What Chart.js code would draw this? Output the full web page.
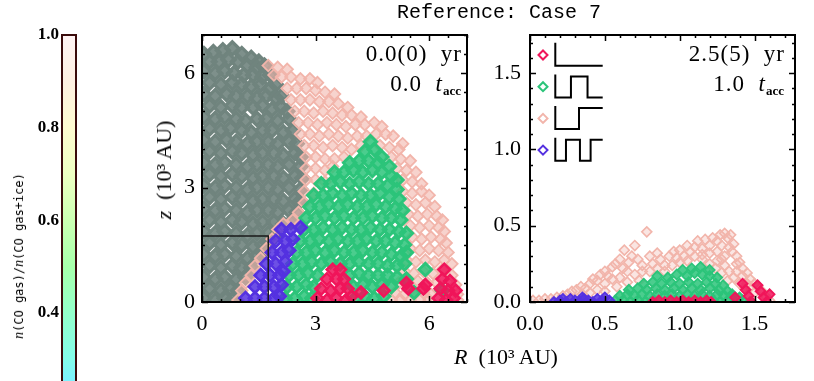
<!DOCTYPE html>
<html><head><meta charset="utf-8">
<script src="https://cdn.jsdelivr.net/npm/chart.js@4/dist/chart.umd.min.js"></script>
<style>
html,body{margin:0;padding:0;background:#fff;}
#wrap{position:relative;width:814px;height:381px;overflow:hidden;background:#fff;}
canvas{position:absolute;}
.t{position:absolute;white-space:nowrap;color:#000;font-family:'Liberation Serif',serif;line-height:1;}
.ann{font-size:23px;letter-spacing:1px;}
.ann sub{font-size:13px;font-weight:bold;vertical-align:-4px;line-height:0;letter-spacing:0;}
</style></head>
<body><div id="wrap">
<canvas id="cb" width="80" height="381" style="left:0;top:0;width:80px;height:381px"></canvas>
<canvas id="cl" width="340" height="345" style="left:140px;top:0;width:340px;height:345px"></canvas>
<canvas id="cr" width="344" height="345" style="left:470px;top:0;width:344px;height:345px"></canvas>

<div class="t" style="left:499px;top:3px;transform:translateX(-50%);font-family:'Liberation Mono',monospace;font-size:20px;">Reference: Case 7</div>
<div class="t" style="left:164px;top:170px;transform:translate(-50%,-50%) rotate(-90deg);font-size:22px;"><i>z</i>&nbsp;&nbsp;(10³ AU)</div>
<div class="t" style="left:506px;top:357px;transform:translate(-50%,-50%);font-size:22px;"><i>R</i>&nbsp;&nbsp;(10³ AU)</div>
<div class="t" style="left:19px;top:256px;transform:translate(-50%,-50%) rotate(-90deg);font-family:'DejaVu Sans Mono',monospace;font-size:12px;"><i style="font-family:'Liberation Serif',serif;font-size:14px">n</i>(CO gas)/<i style="font-family:'Liberation Serif',serif;font-size:14px">n</i>(CO gas+ice)</div>

<div class="t ann" style="right:352px;top:42px;">0.0(0)&nbsp;&nbsp;yr</div>
<div class="t ann" style="right:353px;top:72px;">0.0&nbsp;&nbsp;<i>t</i><sub>acc</sub></div>
<div class="t ann" style="right:29px;top:42px;">2.5(5)&nbsp;&nbsp;yr</div>
<div class="t ann" style="right:30px;top:72px;">1.0&nbsp;&nbsp;<i>t</i><sub>acc</sub></div>
</div>
<script>
// ---------- data (x = R in 10^3 AU, y = z in 10^3 AU), flat pairs ----------
const grayL = [
0.05,6.5, 0.3,6.55, 0.55,6.6, 0.8,6.65, 1.05,6.5, 1.3,6.4, 1.5,6.3,
0.2,6.3, 0.45,6.3, 0.7,6.35, 0.95,6.3, 1.2,6.2, 1.45,6.15, 1.65,6.2,
0.05,6.05, 0.35,6.0, 0.6,6.05, 0.85,6.0, 1.1,5.95, 1.35,5.95, 1.6,5.9, 1.8,5.95,
0.2,5.75, 0.5,5.7, 0.8,5.75, 1.05,5.7, 1.3,5.65, 1.55,5.7, 1.8,5.6, 1.95,5.7,
0.05,5.45, 0.35,5.4, 0.65,5.45, 0.9,5.4, 1.2,5.4, 1.45,5.35, 1.7,5.4, 1.95,5.35, 2.1,5.4,
0.2,5.15, 0.5,5.1, 0.8,5.15, 1.05,5.1, 1.35,5.1, 1.6,5.15, 1.85,5.05, 2.1,5.1, 2.25,5.0,
0.05,4.85, 0.35,4.8, 0.6,4.85, 0.9,4.8, 1.15,4.75, 1.45,4.8, 1.7,4.8, 2.0,4.75, 2.3,4.8,
0.2,4.55, 0.5,4.5, 0.75,4.55, 1.05,4.5, 1.3,4.45, 1.6,4.5, 1.85,4.5, 2.15,4.45, 2.4,4.5,
0.05,4.25, 0.35,4.2, 0.65,4.25, 0.9,4.2, 1.2,4.15, 1.45,4.2, 1.75,4.2, 2.0,4.15, 2.3,4.2, 2.5,4.15,
0.2,3.95, 0.5,3.9, 0.8,3.95, 1.05,3.9, 1.35,3.85, 1.6,3.9, 1.9,3.9, 2.15,3.85, 2.45,3.9, 2.6,3.8,
0.05,3.65, 0.35,3.6, 0.6,3.65, 0.9,3.6, 1.2,3.55, 1.45,3.6, 1.75,3.6, 2.0,3.55, 2.3,3.6, 2.6,3.55,
0.2,3.35, 0.5,3.3, 0.8,3.35, 1.05,3.3, 1.35,3.25, 1.6,3.3, 1.9,3.3, 2.15,3.25, 2.45,3.3, 2.65,3.25,
0.05,3.05, 0.35,3.0, 0.6,3.05, 0.9,3.0, 1.2,2.95, 1.45,3.0, 1.75,3.0, 2.0,2.95, 2.3,3.0, 2.6,2.95,
0.2,2.75, 0.5,2.7, 0.8,2.75, 1.05,2.7, 1.35,2.65, 1.6,2.7, 1.9,2.7, 2.15,2.65, 2.45,2.7, 2.6,2.65,
0.05,2.45, 0.35,2.4, 0.6,2.45, 0.9,2.4, 1.2,2.35, 1.45,2.4, 1.75,2.4, 2.0,2.35, 2.3,2.4, 2.5,2.35,
0.2,2.15, 0.5,2.1, 0.8,2.15, 1.05,2.1, 1.35,2.05, 1.6,2.1, 1.9,2.1, 2.15,2.05, 2.35,2.1,
0.05,1.85, 0.35,1.8, 0.6,1.85, 0.9,1.8, 1.2,1.75, 1.45,1.8, 1.75,1.8, 1.95,1.75,
0.2,1.55, 0.5,1.5, 0.8,1.55, 1.05,1.5, 1.35,1.45, 1.6,1.5, 1.75,1.55,
0.05,1.25, 0.35,1.2, 0.6,1.25, 0.9,1.2, 1.2,1.15, 1.45,1.2, 1.6,1.3,
0.2,0.95, 0.5,0.9, 0.8,0.95, 1.05,0.9, 1.3,0.9,
0.05,0.65, 0.35,0.6, 0.6,0.65, 0.9,0.6, 1.15,0.65,
0.2,0.35, 0.5,0.3, 0.75,0.35, 0.95,0.3,
0.05,0.1, 0.35,0.05, 0.6,0.1, 0.8,0.05
];
const pinkL = [
1.75,6.2, 2.0,6.15, 2.25,6.1, 1.9,5.95,
2.1,5.9, 2.35,5.9, 2.6,5.85, 2.85,5.85, 3.05,5.75,
2.25,5.6, 2.5,5.6, 2.75,5.6, 3.0,5.55, 3.25,5.5, 3.5,5.45,
2.35,5.3, 2.6,5.3, 2.85,5.3, 3.1,5.25, 3.35,5.25, 3.6,5.2, 3.85,5.1,
2.45,5.0, 2.7,5.0, 2.95,4.95, 3.2,5.0, 3.45,4.95, 3.7,4.9, 3.95,4.9, 4.2,4.85,
2.55,4.7, 2.8,4.7, 3.05,4.65, 3.3,4.7, 3.55,4.65, 3.8,4.6, 4.05,4.65, 4.3,4.65, 4.55,4.7, 4.75,4.6,
2.6,4.4, 2.85,4.4, 3.1,4.35, 3.35,4.4, 3.6,4.35, 3.85,4.3, 4.1,4.35, 4.35,4.35, 4.6,4.4, 4.85,4.4, 5.05,4.35,
2.7,4.1, 2.95,4.1, 3.2,4.05, 3.45,4.1, 3.7,4.05, 3.95,4.0, 4.2,4.1, 4.7,4.1, 4.95,4.05, 5.2,4.0, 5.3,4.15,
2.75,3.8, 3.0,3.8, 3.25,3.75, 3.5,3.75, 3.75,3.8, 5.0,3.8, 5.25,3.75, 5.5,3.7,
2.75,3.5, 3.0,3.5, 3.25,3.45, 3.45,3.55, 5.15,3.5, 5.4,3.45, 5.65,3.4,
2.75,3.2, 3.0,3.2, 3.25,3.15, 5.3,3.2, 5.55,3.15, 5.8,3.1,
2.7,2.9, 2.95,2.85, 5.3,2.9, 5.55,2.85, 5.8,2.9, 6.0,2.8,
2.7,2.6, 5.4,2.6, 5.65,2.55, 5.9,2.6, 6.15,2.5,
5.45,2.3, 5.7,2.25, 5.95,2.3, 6.2,2.25, 6.35,2.15,
5.5,2.0, 5.75,1.95, 6.0,2.0, 6.25,1.95, 6.4,1.85,
5.55,1.7, 5.8,1.65, 6.05,1.7, 6.3,1.65, 6.45,1.55,
5.5,1.4, 5.75,1.35, 6.0,1.4, 6.25,1.35, 6.5,1.3,
5.4,1.1, 5.65,1.05, 5.9,1.1, 6.15,1.05, 6.4,1.1, 6.6,1.0,
5.35,0.8, 5.6,0.75, 5.85,0.8, 6.1,0.75, 6.35,0.85, 6.6,0.7,
5.2,0.5, 5.45,0.5, 5.7,0.55, 5.95,0.5, 6.2,0.5, 6.7,0.45,
5.1,0.25, 5.35,0.2, 5.6,0.2, 5.85,0.25, 6.05,0.2, 6.75,0.2,
5.0,0.05, 5.25,0.05, 5.5,0.05, 5.75,0.05, 6.0,0.05, 6.75,0.05,
0.95,0.05, 1.05,0.3, 1.15,0.5, 1.3,0.7, 1.4,0.95, 1.55,1.15, 1.7,1.4, 1.85,1.65, 2.0,1.9,
2.15,2.05, 2.4,2.15, 2.55,2.35, 2.6,2.05
];
const greenL = [
4.3,3.95, 4.55,4.0, 4.45,4.2, 4.75,3.8,
3.9,3.65, 4.15,3.7, 4.4,3.7, 4.65,3.65, 4.95,3.55,
3.5,3.4, 3.75,3.4, 4.0,3.45, 4.25,3.4, 4.5,3.45, 4.75,3.4, 5.0,3.3, 5.15,3.2,
3.15,3.1, 3.4,3.1, 3.65,3.15, 3.9,3.1, 4.15,3.15, 4.4,3.1, 4.65,3.1, 4.9,3.05, 5.15,2.95,
2.95,2.8, 3.2,2.8, 3.45,2.85, 3.7,2.8, 3.95,2.85, 4.2,2.8, 4.45,2.8, 4.7,2.85, 4.95,2.75, 5.2,2.7,
2.85,2.5, 3.1,2.5, 3.35,2.55, 3.6,2.5, 3.85,2.55, 4.1,2.5, 4.35,2.5, 4.6,2.55, 4.85,2.5, 5.1,2.45, 5.3,2.4,
2.75,2.2, 3.0,2.2, 3.25,2.25, 3.5,2.2, 3.75,2.25, 4.0,2.2, 4.25,2.2, 4.5,2.25, 4.75,2.2, 5.0,2.2, 5.25,2.15,
2.7,1.9, 2.95,1.9, 3.2,1.95, 3.45,1.9, 3.7,1.95, 3.95,1.9, 4.2,1.9, 4.45,1.95, 4.7,1.9, 4.95,1.9, 5.2,1.85, 5.4,1.8,
2.6,1.6, 2.85,1.6, 3.1,1.65, 3.35,1.6, 3.6,1.65, 3.85,1.6, 4.1,1.6, 4.35,1.65, 4.6,1.6, 4.85,1.6, 5.1,1.55, 5.35,1.5,
2.5,1.3, 2.75,1.3, 3.0,1.35, 3.25,1.3, 3.5,1.35, 3.75,1.3, 4.0,1.3, 4.25,1.35, 4.5,1.3, 4.75,1.3, 5.0,1.25, 5.25,1.2, 5.4,1.3,
2.4,1.0, 2.65,1.0, 2.9,1.05, 3.15,1.0, 3.4,1.05, 3.65,1.0, 3.9,1.0, 4.15,1.05, 4.4,1.0, 4.65,1.0, 4.9,0.95, 5.15,0.95, 5.35,1.0,
2.3,0.7, 2.55,0.7, 2.8,0.75, 3.05,0.7, 3.9,0.7, 4.15,0.75, 4.4,0.7, 4.65,0.7, 4.9,0.7, 5.15,0.65,
2.25,0.4, 2.5,0.4, 2.75,0.45, 2.95,0.4, 4.0,0.4, 4.25,0.45, 4.5,0.4, 4.75,0.45, 5.0,0.4,
2.2,0.1, 2.45,0.1, 2.7,0.15, 2.9,0.1, 4.05,0.1, 4.3,0.15, 4.55,0.1, 4.8,0.15,
5.4,0.6, 5.9,0.85, 5.6,0.25, 6.35,0.3
];
const blueL = [
1.15,0.1, 1.4,0.1, 1.65,0.1, 1.9,0.1, 2.05,0.15,
1.4,0.4, 1.65,0.4, 1.9,0.4, 2.1,0.45,
1.55,0.7, 1.8,0.7, 2.05,0.7, 2.15,0.8,
1.7,1.0, 1.95,1.0, 2.2,1.05,
1.85,1.3, 2.1,1.3, 2.3,1.35,
1.95,1.6, 2.2,1.6, 2.4,1.65,
2.1,1.9, 2.35,1.9, 2.6,1.95
];
const redL = [
3.05,0.1, 3.3,0.05, 3.55,0.1, 3.8,0.05, 3.95,0.15,
3.15,0.35, 3.4,0.3, 3.65,0.35, 3.85,0.35,
3.3,0.6, 3.55,0.6, 3.75,0.6, 3.45,0.85, 3.65,0.85,
4.2,0.25, 4.8,0.3, 5.4,0.5, 5.45,0.35, 5.85,0.35, 5.9,0.45,
6.25,0.1, 6.45,0.05, 6.65,0.1, 6.3,0.35, 6.5,0.3, 6.7,0.3, 6.35,0.6, 6.55,0.55, 6.4,0.85
];
const pinkR = [
0.02,0.01, 0.06,0.01, 0.1,0.02, 0.14,0.02, 0.18,0.03, 0.22,0.04, 0.25,0.05, 0.28,0.07,
0.31,0.08, 0.34,0.1, 0.37,0.09, 0.4,0.12, 0.42,0.15, 0.45,0.14, 0.47,0.18, 0.5,0.2,
0.52,0.17, 0.55,0.23, 0.57,0.25, 0.6,0.28, 0.62,0.22, 0.63,0.34, 0.66,0.26, 0.68,0.3,
0.7,0.37, 0.72,0.28, 0.75,0.24, 0.78,0.46, 0.8,0.3, 0.82,0.25, 0.85,0.32, 0.87,0.28,
0.9,0.24, 0.93,0.3, 0.96,0.33, 0.98,0.29, 1.0,0.34, 1.03,0.3, 1.05,0.37, 1.07,0.33,
1.1,0.36, 1.12,0.4, 1.15,0.35, 1.17,0.41, 1.2,0.37, 1.22,0.42, 1.25,0.4, 1.27,0.44,
1.3,0.45, 1.32,0.42, 1.34,0.44, 1.36,0.38, 1.35,0.33, 1.38,0.3, 1.4,0.26, 1.42,0.22,
1.45,0.19, 1.47,0.15, 1.5,0.12, 1.52,0.1, 1.55,0.07, 1.57,0.04, 1.6,0.01,
1.25,0.33, 1.28,0.28, 1.3,0.24, 1.33,0.2, 1.36,0.16, 1.4,0.12, 1.43,0.09,
1.15,0.28, 1.2,0.25, 1.24,0.22, 1.28,0.19, 1.32,0.14, 1.38,0.2, 1.45,0.12,
0.35,0.05, 0.4,0.06, 0.45,0.08, 0.5,0.12, 0.55,0.15, 0.6,0.16, 0.65,0.2, 0.7,0.18,
0.75,0.2, 0.8,0.2, 0.85,0.22, 0.9,0.2, 0.95,0.24, 1.0,0.26, 1.05,0.27, 1.1,0.3,
1.15,0.31, 1.2,0.32, 1.25,0.27, 1.3,0.3, 1.33,0.36, 1.28,0.37, 1.38,0.25, 1.42,0.17,
1.47,0.1, 1.5,0.06, 0.5,0.07, 0.58,0.1, 0.65,0.13, 0.73,0.14
];
const greenR = [
0.57,0.01, 0.62,0.01, 0.67,0.0, 0.72,0.01, 0.77,0.0, 0.82,0.01, 0.87,0.0, 0.92,0.01, 0.97,0.0, 1.02,0.01,
1.07,0.0, 1.12,0.01, 1.17,0.0, 1.22,0.01, 1.27,0.0, 1.32,0.01, 1.37,0.0, 1.42,0.01, 1.47,0.0,
0.6,0.04, 0.65,0.05, 0.7,0.04, 0.75,0.05, 0.8,0.04, 0.85,0.05, 0.9,0.04, 0.95,0.05, 1.0,0.04,
1.05,0.05, 1.1,0.04, 1.15,0.05, 1.2,0.04, 1.25,0.05, 1.3,0.04, 1.35,0.04, 1.4,0.03,
0.66,0.08, 0.72,0.09, 0.78,0.08, 0.84,0.09, 0.9,0.08, 0.96,0.09, 1.02,0.08, 1.08,0.09, 1.14,0.08,
1.2,0.09, 1.26,0.08, 1.32,0.07,
0.76,0.12, 0.82,0.13, 0.88,0.12, 0.94,0.13, 1.0,0.12, 1.06,0.13, 1.12,0.12, 1.18,0.13, 1.24,0.12, 1.29,0.11,
0.85,0.17, 0.92,0.16, 0.98,0.18, 1.05,0.17, 1.1,0.19, 1.15,0.18, 1.2,0.17, 1.25,0.16,
1.02,0.21, 1.08,0.22, 1.14,0.23, 1.2,0.21, 1.35,0.05
];
const blueR = [
0.16,0.0, 0.2,0.01, 0.24,0.0, 0.27,0.02, 0.3,0.01, 0.33,0.0, 0.36,0.02, 0.39,0.01,
0.42,0.0, 0.45,0.02, 0.48,0.01, 0.5,0.03, 0.53,0.01, 0.22,0.02, 0.35,0.03
];
const redR = [
0.82,0.0, 0.86,0.01, 0.9,0.0, 0.94,0.01, 0.98,0.0, 1.02,0.01, 1.06,0.0, 1.1,0.01, 1.14,0.0,
1.18,0.01, 1.21,0.0, 1.37,0.03,
1.42,0.12, 1.44,0.08, 1.46,0.04, 1.48,0.0, 1.52,0.11, 1.54,0.07, 1.56,0.03, 1.58,0.0, 1.6,0.05
];

// axes
const leftXRange = [0, 7], leftYRange = [0, 7];
const rightXRange = [0, 1.77], rightYRange = [0, 1.75];
const leftXTicks = [0, 3, 6], leftYTicks = [0, 3, 6];
const rightXTicks = [0, 0.5, 1.0, 1.5], rightYTicks = [0, 0.5, 1.0, 1.5];
const leftMinor = 0.5, rightMinor = 0.1;

// colour bar
const cbRange = [0.253, 1.0];
const cbTicks = [0.4, 0.6, 0.8, 1.0];
const cbStopValues = [1.0, 0.9, 0.8, 0.7, 0.6, 0.5, 0.4, 0.3, 0.25];
const cbStopColors = ['#fff4f4','#fff0e2','#fffbd0','#eeffc2','#ccffb2','#a8ffaa','#94ffca','#84fcea','#7cf2ff'];

// legend (trajectory profiles: fractions where the step toggles, starting low)
const legendColors = ['#f0155a', '#2cc47a', '#f2b5ab', '#5431e0'];
const legendSteps = [[], [0.33, 0.68], [0.5], [0.225, 0.52, 0.745]];

const COL = {red:'#f0155a', blue:'#5431e0', green:'#2cc47a', pink:'#f2b5ab', gray:'#70847e'};

// ---------- helpers ----------
function pts(a){ const o=[]; for(let i=0;i<a.length;i+=2) o.push({x:a[i], y:a[i+1]}); return o; }
function rgba(hex, a){ const n=parseInt(hex.slice(1),16); return `rgba(${n>>16&255},${n>>8&255},${n&255},${a})`; }
function ds(arr, col, fa, r, bw){
  return {data:pts(arr), showLine:false, pointStyle:'rectRot', pointRadius:r, pointHoverRadius:r,
          pointBorderWidth:bw, borderColor:col, backgroundColor:rgba(col, fa), clip:0};
}
const tickFont = {family:"'Liberation Serif', serif", size:22};

const idlFrame = {
  id:'idlFrame',
  afterDatasetsDraw(chart, args, o){
    if(!o || !o.on) return;
    const {ctx, chartArea:a} = chart, x = chart.scales.x, y = chart.scales.y;
    ctx.save();
    ctx.strokeStyle = '#000';
    if(o.box){
      ctx.lineWidth = 1.5; ctx.strokeStyle = '#1a1a1a';
      const bx = x.getPixelForValue(o.box[0]), by = y.getPixelForValue(o.box[1]);
      ctx.beginPath(); ctx.moveTo(x.getPixelForValue(0), by); ctx.lineTo(bx, by); ctx.lineTo(bx, a.bottom); ctx.stroke();
      ctx.strokeStyle = '#000';
    }
    ctx.lineWidth = 1.5;
    const doAxis = (sc, minor, majors, horiz) => {
      const n0 = Math.ceil(sc.min/minor - 1e-6), n1 = Math.floor(sc.max/minor + 1e-6);
      for(let k=n0;k<=n1;k++){
        const v = k*minor;
        const maj = majors.some(m => Math.abs(m - v) < 1e-6);
        const L = maj ? 6 : 3;
        const p = Math.round(sc.getPixelForValue(v)) + 0.5;
        ctx.beginPath();
        if(horiz){ ctx.moveTo(p, a.bottom); ctx.lineTo(p, a.bottom - L); ctx.moveTo(p, a.top); ctx.lineTo(p, a.top + L); }
        else { ctx.moveTo(a.left, p); ctx.lineTo(a.left + L, p); ctx.moveTo(a.right, p); ctx.lineTo(a.right - L, p); }
        ctx.stroke();
      }
    };
    doAxis(x, o.minor, o.xMaj, true);
    doAxis(y, o.minor, o.yMaj, false);
    ctx.lineWidth = 2;
    ctx.strokeRect(a.left, a.top, a.right - a.left, a.bottom - a.top);
    if(o.legend){
      legendColors.forEach((c, i) => {
        const bottom = a.top + 30.7 + i*31.7, top = bottom - 23, high = bottom - 21;
        const cx = a.left + 13, cy = bottom - 10.7, r = 4.5;
        ctx.strokeStyle = c; ctx.lineWidth = 2;
        ctx.beginPath(); ctx.moveTo(cx - r, cy); ctx.lineTo(cx, cy - r); ctx.lineTo(cx + r, cy); ctx.lineTo(cx, cy + r); ctx.closePath(); ctx.stroke();
        const x0 = a.left + 25.3, w = 47.4;
        ctx.strokeStyle = '#000'; ctx.lineWidth = 2;
        ctx.beginPath(); ctx.moveTo(x0, top); ctx.lineTo(x0, bottom);
        let lev = bottom;
        legendSteps[i].forEach(f => { const xs = x0 + f*w; ctx.lineTo(xs, lev); lev = (lev === bottom) ? high : bottom; ctx.lineTo(xs, lev); });
        ctx.lineTo(x0 + w, lev); ctx.stroke();
      });
    }
    ctx.restore();
  }
};

function panel(id, sets, xr, yr, xt, yt, minor, fmt, yw, padR, ypad, frameOpts){
  return new Chart(document.getElementById(id), {
    type:'scatter',
    data:{datasets:sets},
    plugins:[idlFrame],
    options:{
      responsive:false, animation:false, devicePixelRatio:1,
      layout:{padding:{top:35, right:padR, left:0, bottom:0}},
      plugins:{legend:{display:false}, tooltip:{enabled:false}, idlFrame:Object.assign({on:true, minor, xMaj:xt, yMaj:yt}, frameOpts)},
      scales:{
        x:{type:'linear', min:xr[0], max:xr[1], grid:{display:false, drawTicks:false}, border:{display:false},
           ticks:{font:tickFont, color:'#000', padding:9, maxRotation:0, autoSkip:false, callback:fmt},
           afterBuildTicks:s=>{ s.ticks = xt.map(v=>({value:v})); }, afterFit:s=>{ s.height = 43; }},
        y:{type:'linear', min:yr[0], max:yr[1], grid:{display:false, drawTicks:false}, border:{display:false},
           ticks:{font:tickFont, color:'#000', padding:ypad, autoSkip:false, callback:fmt},
           afterBuildTicks:s=>{ s.ticks = yt.map(v=>({value:v})); }, afterFit:s=>{ s.width = yw; }}
      }
    }
  });
}

panel('cl', [ds(redL, COL.red, 0.85, 6, 2.4), ds(blueL, COL.blue, 0.85, 6.2, 2.6), ds(greenL, COL.green, 0.85, 6.3, 2.8), ds(pinkL, COL.pink, 0.6, 5.8, 1.8), ds(grayL, COL.gray, 0.9, 6.6, 3.2)],
      leftXRange, leftYRange, leftXTicks, leftYTicks, leftMinor, v=>String(v), 62, 13, 7,
      {box:[rightXRange[1] - 0.02, rightYRange[1] - 0.02]});
panel('cr', [ds(redR, COL.red, 0.85, 5, 1.8), ds(blueR, COL.blue, 0.85, 5, 1.8), ds(greenR, COL.green, 0.85, 5, 1.8), ds(pinkR, COL.pink, 0.35, 5, 1.6)],
      rightXRange, rightYRange, rightXTicks, rightYTicks, rightMinor, v=>Number(v).toFixed(1), 60, 19, 9,
      {legend:true});

// colour bar
const cbPlugin = {
  id:'cbar',
  beforeDatasetsDraw(chart){
    const {ctx, chartArea:a} = chart, y = chart.scales.y;
    const g = ctx.createLinearGradient(0, a.top, 0, a.bottom);
    cbStopValues.forEach((v,i)=>{
      const off = Math.min(1, Math.max(0, (y.getPixelForValue(v) - a.top)/(a.bottom - a.top)));
      g.addColorStop(off, cbStopColors[i]);
    });
    ctx.save(); ctx.fillStyle = g; ctx.fillRect(a.left, a.top, a.right - a.left, a.bottom - a.top + 2);
    ctx.strokeStyle = '#3a0b0b'; ctx.lineWidth = 2;
    ctx.strokeRect(a.left, a.top, a.right - a.left, a.bottom - a.top + 10);
    ctx.restore();
  }
};
new Chart(document.getElementById('cb'), {
  type:'scatter', data:{datasets:[]}, plugins:[cbPlugin],
  options:{
    responsive:false, animation:false, devicePixelRatio:1,
    layout:{padding:{top:35, right:4, left:0, bottom:0}},
    plugins:{legend:{display:false}, tooltip:{enabled:false}},
    scales:{
      x:{display:false, min:0, max:1},
      y:{type:'linear', min:cbRange[0], max:cbRange[1], grid:{display:false, drawTicks:false}, border:{display:false},
         ticks:{font:{family:"'Liberation Serif', serif", size:17, weight:'bold'}, color:'#000', padding:3, callback:v=>Number(v).toFixed(1)},
         afterBuildTicks:s=>{ s.ticks = cbTicks.map(v=>({value:v})); },
         afterFit:s=>{ s.width = 62; s.paddingTop = 0; s.paddingBottom = 0; }}
    }
  }
});
</script>
</body></html>
